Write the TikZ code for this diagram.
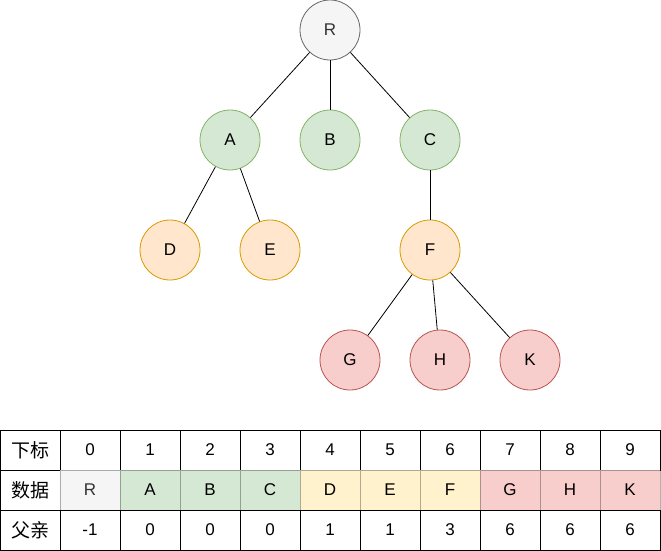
\documentclass[tikz,border=0pt]{standalone}
\usepackage{fontspec}
\setmainfont{Liberation Sans}
\newfontfamily\cjk{Noto Sans CJK SC}
\usepackage{tikz}
\usetikzlibrary{positioning}
\definecolor{greyfill}{HTML}{F5F5F5}
\definecolor{greyline}{HTML}{666666}
\definecolor{greytext}{HTML}{333333}
\definecolor{greenfill}{HTML}{D5E8D4}
\definecolor{greenline}{HTML}{82B366}
\definecolor{orangefill}{HTML}{FFE6CC}
\definecolor{orangeline}{HTML}{D79B00}
\definecolor{redfill}{HTML}{F8CECC}
\definecolor{redline}{HTML}{B85450}
\definecolor{yellowfill}{HTML}{FFF2CC}
\newcommand{\rowname}[1]{{\cjk\fontsize{19}{22}\selectfont #1}}
\tikzstyle{vertex} = [circle, minimum size=60pt, inner sep=0pt, font=\fontsize{17}{20}\selectfont]
\tikzstyle{root} = [vertex, draw=greyline, fill=greyfill, text=greytext]
\tikzstyle{level1} = [vertex, draw=greenline, fill=greenfill]
\tikzstyle{level2} = [vertex, draw=orangeline, fill=orangefill]
\tikzstyle{level3} = [vertex, draw=redline, fill=redfill]
\tikzstyle{edge} = [black, line width=0.8pt]
\tikzstyle{cell} = [rectangle, node distance=60pt, minimum width=60pt, minimum height=40pt, inner sep=0pt, outer sep=0pt, draw=black, fill=white, font=\fontsize{17}{20}\selectfont]
\tikzstyle{datacell} = [cell, draw=black, draw opacity=0.3]

\begin{document}
\begin{tikzpicture}[x=1pt, y=1pt, node distance=110pt, line width=0.8pt]
\useasboundingbox (0,0) rectangle (661,-551);

% tree
\node (R) [root] at (330,-30) {R};
\node (A) [level1, below of=R, xshift=-100pt] {A};
\node (B) [level1, below of=R] {B};
\node (C) [level1, below of=R, xshift=100pt] {C};
\node (D) [level2, below of=A, xshift=-60pt] {D};
\node (E) [level2, below of=A, xshift=40pt] {E};
\node (F) [level2, below of=C] {F};
\node (G) [level3, below of=F, xshift=-80pt] {G};
\node (H) [level3, below of=F, xshift=10pt] {H};
\node (K) [level3, below of=F, xshift=100pt] {K};

\draw [edge] (R) -- (A);
\draw [edge] (R) -- (B);
\draw [edge] (R) -- (C);
\draw [edge] (A) -- (D);
\draw [edge] (A) -- (E);
\draw [edge] (C) -- (F);
\draw [edge] (F) -- (G);
\draw [edge] (F) -- (H);
\draw [edge] (F) -- (K);

% table
\node (idxH) [cell] at (30,-450) {\rowname{下标}};
\node (idx0) [cell, right of=idxH] {0};
\node (idx1) [cell, right of=idx0] {1};
\node (idx2) [cell, right of=idx1] {2};
\node (idx3) [cell, right of=idx2] {3};
\node (idx4) [cell, right of=idx3] {4};
\node (idx5) [cell, right of=idx4] {5};
\node (idx6) [cell, right of=idx5] {6};
\node (idx7) [cell, right of=idx6] {7};
\node (idx8) [cell, right of=idx7] {8};
\node (idx9) [cell, right of=idx8] {9};

\node (parH) [cell] at (30,-530) {\rowname{父亲}};
\node (par0) [cell, right of=parH] {-1};
\node (par1) [cell, right of=par0] {0};
\node (par2) [cell, right of=par1] {0};
\node (par3) [cell, right of=par2] {0};
\node (par4) [cell, right of=par3] {1};
\node (par5) [cell, right of=par4] {1};
\node (par6) [cell, right of=par5] {3};
\node (par7) [cell, right of=par6] {6};
\node (par8) [cell, right of=par7] {6};
\node (par9) [cell, right of=par8] {6};

% data row last, its grey borders lie on top
\node (datH) [cell] at (30,-490) {\rowname{数据}};
\node (dat0) [datacell, right of=datH, fill=greyfill, text=greytext] {R};
\node (dat1) [datacell, right of=dat0, fill=greenfill] {A};
\node (dat2) [datacell, right of=dat1, fill=greenfill] {B};
\node (dat3) [datacell, right of=dat2, fill=greenfill] {C};
\node (dat4) [datacell, right of=dat3, fill=yellowfill] {D};
\node (dat5) [datacell, right of=dat4, fill=yellowfill] {E};
\node (dat6) [datacell, right of=dat5, fill=yellowfill] {F};
\node (dat7) [datacell, right of=dat6, fill=redfill] {G};
\node (dat8) [datacell, right of=dat7, fill=redfill] {H};
\node (dat9) [datacell, right of=dat8, fill=redfill] {K};

\end{tikzpicture}
\end{document}
